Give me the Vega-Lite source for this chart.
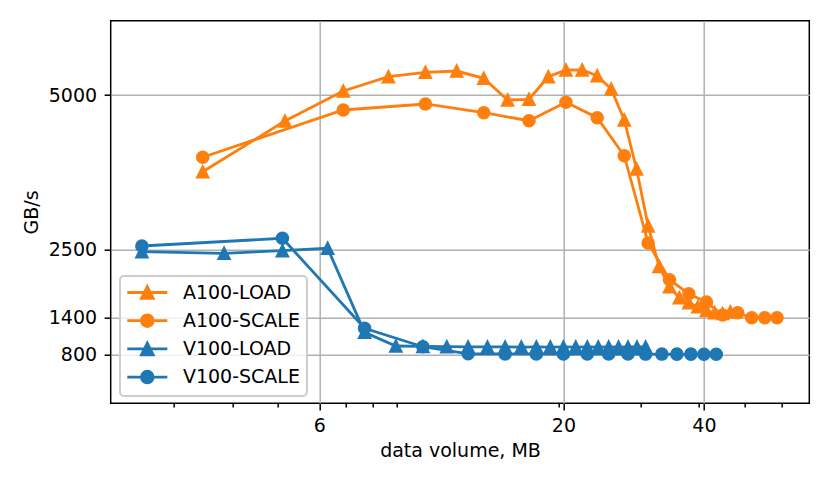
{
  "$schema": "https://vega.github.io/schema/vega-lite/v6.json",
  "width": 698.6,
  "height": 382.6,
  "autosize": "none",
  "padding": {"left": 110.7, "top": 20.7, "right": 20.7, "bottom": 81.7},
  "background": "white",
  "config": {
    "font": "DejaVu Sans",
    "view": {"stroke": "black", "strokeWidth": 1.5},
    "axis": {
      "labelFont": "DejaVu Sans", "labelFontSize": 19, "labelColor": "black",
      "titleFont": "DejaVu Sans", "titleFontSize": 19, "titleFontWeight": "normal", "titleColor": "black",
      "tickColor": "black", "tickWidth": 1.5, "tickSize": 6.6,
      "domain": false, "gridColor": "#b0b0b0", "gridWidth": 1.5
    },
    "legend": {"strokeWidth": 1.9}
  },
  "data": {"values": [
    {"series": "A100-LOAD", "mb": 3.456, "gbs": 3760},
    {"series": "A100-LOAD", "mb": 5.184, "gbs": 4580},
    {"series": "A100-LOAD", "mb": 6.912, "gbs": 5065},
    {"series": "A100-LOAD", "mb": 8.64, "gbs": 5296},
    {"series": "A100-LOAD", "mb": 10.368, "gbs": 5367},
    {"series": "A100-LOAD", "mb": 12.096, "gbs": 5388},
    {"series": "A100-LOAD", "mb": 13.824, "gbs": 5270},
    {"series": "A100-LOAD", "mb": 15.552, "gbs": 4919},
    {"series": "A100-LOAD", "mb": 17.28, "gbs": 4931},
    {"series": "A100-LOAD", "mb": 19.008, "gbs": 5296},
    {"series": "A100-LOAD", "mb": 20.736, "gbs": 5405},
    {"series": "A100-LOAD", "mb": 22.464, "gbs": 5405},
    {"series": "A100-LOAD", "mb": 24.192, "gbs": 5312},
    {"series": "A100-LOAD", "mb": 25.92, "gbs": 5097},
    {"series": "A100-LOAD", "mb": 27.648, "gbs": 4596},
    {"series": "A100-LOAD", "mb": 29.376, "gbs": 3803},
    {"series": "A100-LOAD", "mb": 31.104, "gbs": 2882},
    {"series": "A100-LOAD", "mb": 32.832, "gbs": 2226},
    {"series": "A100-LOAD", "mb": 34.56, "gbs": 1900},
    {"series": "A100-LOAD", "mb": 36.288, "gbs": 1720},
    {"series": "A100-LOAD", "mb": 38.016, "gbs": 1640},
    {"series": "A100-LOAD", "mb": 39.744, "gbs": 1575},
    {"series": "A100-LOAD", "mb": 41.472, "gbs": 1515},
    {"series": "A100-LOAD", "mb": 43.2, "gbs": 1480},
    {"series": "A100-LOAD", "mb": 44.928, "gbs": 1465},
    {"series": "A100-LOAD", "mb": 46.656, "gbs": 1495},
    {"series": "A100-SCALE", "mb": 3.456, "gbs": 3993},
    {"series": "A100-SCALE", "mb": 6.912, "gbs": 4758},
    {"series": "A100-SCALE", "mb": 10.368, "gbs": 4855},
    {"series": "A100-SCALE", "mb": 13.824, "gbs": 4714},
    {"series": "A100-SCALE", "mb": 17.28, "gbs": 4585},
    {"series": "A100-SCALE", "mb": 20.736, "gbs": 4882},
    {"series": "A100-SCALE", "mb": 24.192, "gbs": 4633},
    {"series": "A100-SCALE", "mb": 27.648, "gbs": 4018},
    {"series": "A100-SCALE", "mb": 31.104, "gbs": 2607},
    {"series": "A100-SCALE", "mb": 34.56, "gbs": 2013},
    {"series": "A100-SCALE", "mb": 38.016, "gbs": 1785},
    {"series": "A100-SCALE", "mb": 41.472, "gbs": 1650},
    {"series": "A100-SCALE", "mb": 44.928, "gbs": 1442},
    {"series": "A100-SCALE", "mb": 48.384, "gbs": 1477},
    {"series": "A100-SCALE", "mb": 51.84, "gbs": 1398},
    {"series": "A100-SCALE", "mb": 55.296, "gbs": 1398},
    {"series": "A100-SCALE", "mb": 58.752, "gbs": 1398},
    {"series": "V100-LOAD", "mb": 2.56, "gbs": 2466},
    {"series": "V100-LOAD", "mb": 3.84, "gbs": 2440},
    {"series": "V100-LOAD", "mb": 5.12, "gbs": 2482},
    {"series": "V100-LOAD", "mb": 6.4, "gbs": 2521},
    {"series": "V100-LOAD", "mb": 7.68, "gbs": 1162},
    {"series": "V100-LOAD", "mb": 8.96, "gbs": 941},
    {"series": "V100-LOAD", "mb": 10.24, "gbs": 935},
    {"series": "V100-LOAD", "mb": 11.52, "gbs": 930},
    {"series": "V100-LOAD", "mb": 12.8, "gbs": 927},
    {"series": "V100-LOAD", "mb": 14.08, "gbs": 925},
    {"series": "V100-LOAD", "mb": 15.36, "gbs": 926},
    {"series": "V100-LOAD", "mb": 16.64, "gbs": 924},
    {"series": "V100-LOAD", "mb": 17.92, "gbs": 925},
    {"series": "V100-LOAD", "mb": 19.2, "gbs": 924},
    {"series": "V100-LOAD", "mb": 20.48, "gbs": 925},
    {"series": "V100-LOAD", "mb": 21.76, "gbs": 924},
    {"series": "V100-LOAD", "mb": 23.04, "gbs": 925},
    {"series": "V100-LOAD", "mb": 24.32, "gbs": 924},
    {"series": "V100-LOAD", "mb": 25.6, "gbs": 925},
    {"series": "V100-LOAD", "mb": 26.88, "gbs": 924},
    {"series": "V100-LOAD", "mb": 28.16, "gbs": 925},
    {"series": "V100-LOAD", "mb": 29.44, "gbs": 926},
    {"series": "V100-LOAD", "mb": 30.72, "gbs": 925},
    {"series": "V100-SCALE", "mb": 2.56, "gbs": 2558},
    {"series": "V100-SCALE", "mb": 5.12, "gbs": 2683},
    {"series": "V100-SCALE", "mb": 7.68, "gbs": 1227},
    {"series": "V100-SCALE", "mb": 10.24, "gbs": 929},
    {"series": "V100-SCALE", "mb": 12.8, "gbs": 815},
    {"series": "V100-SCALE", "mb": 15.36, "gbs": 812},
    {"series": "V100-SCALE", "mb": 17.92, "gbs": 813},
    {"series": "V100-SCALE", "mb": 20.48, "gbs": 811},
    {"series": "V100-SCALE", "mb": 23.04, "gbs": 812},
    {"series": "V100-SCALE", "mb": 25.6, "gbs": 811},
    {"series": "V100-SCALE", "mb": 28.16, "gbs": 811},
    {"series": "V100-SCALE", "mb": 30.72, "gbs": 810},
    {"series": "V100-SCALE", "mb": 33.28, "gbs": 810},
    {"series": "V100-SCALE", "mb": 35.84, "gbs": 809},
    {"series": "V100-SCALE", "mb": 38.4, "gbs": 809},
    {"series": "V100-SCALE", "mb": 40.96, "gbs": 808},
    {"series": "V100-SCALE", "mb": 43.52, "gbs": 808}
  ]},
  "encoding": {
    "x": {
      "field": "mb", "type": "quantitative",
      "scale": {"type": "log", "domain": [2.195, 68.88], "nice": false, "zero": false},
      "axis": {
        "title": "data volume, MB",
        "values": [3, 4, 5, 6.144, 7, 8, 9, 20, 20.48, 30, 40, 40.96, 50, 60],
        "labelExpr": "datum.value == 6.144 ? '6' : datum.value == 20.48 ? '20' : datum.value == 40.96 ? '40' : ''",
        "labelOverlap": false,
        "labelPadding": 7,
        "titlePadding": 6,
        "tickSize": {"condition": {"test": "datum.value == 6.144 || datum.value == 20.48 || datum.value == 40.96", "value": 6.6}, "value": 3.8},
        "gridOpacity": {"condition": {"test": "datum.value == 6.144 || datum.value == 20.48 || datum.value == 40.96", "value": 1}, "value": 0}
      }
    },
    "y": {
      "field": "gbs", "type": "quantitative",
      "scale": {"domain": [14, 6202], "nice": false, "zero": false},
      "axis": {
        "title": "GB/s",
        "values": [800, 1400, 2500, 5000],
        "format": "d",
        "labelPadding": 7.5,
        "titlePadding": 7
      }
    },
    "color": {
      "field": "series", "type": "nominal",
      "scale": {"domain": ["A100-LOAD", "A100-SCALE", "V100-LOAD", "V100-SCALE"], "range": ["#ff7f0e", "#ff7f0e", "#1f77b4", "#1f77b4"]},
      "legend": {
        "title": null, "orient": "none", "legendX": 9.3, "legendY": 255.3,
        "padding": 7, "fillColor": "rgba(255,255,255,0.8)", "strokeColor": "#cccccc", "cornerRadius": 4,
        "labelFont": "DejaVu Sans", "labelFontSize": 19, "labelColor": "black",
        "symbolSize": 117, "symbolOffset": 10.8, "labelOffset": 26.1, "rowPadding": 5.2,
        "encode": {
          "symbols": {
            "update": {
              "shape": {"signal": "indexof(datum.value, 'LOAD') >= 0 ? 'M-3.7,0L3.7,0M0,-1.08L-1.08,1.08L1.08,1.08Z' : 'M-3.7,0L3.7,0M1.08,0A1.08,1.08,0,1,1,-1.08,0A1.08,1.08,0,1,1,1.08,0Z'"},
              "fill": {"scale": "color", "field": "value"},
              "stroke": {"scale": "color", "field": "value"},
              "strokeWidth": {"value": 2.8},
              "opacity": {"value": 1}
            }
          }
        }
      }
    }
  },
  "layer": [
    {"mark": {"type": "line", "strokeWidth": 2.8}, "encoding": {}},
    {
      "transform": [{"filter": "indexof(datum.series, 'LOAD') >= 0"}],
      "mark": {"type": "point", "filled": true, "size": 136, "strokeWidth": 1.9, "opacity": 1, "shape": "M0,-1L-1,1L1,1Z"},
      "encoding": {
        "stroke": {"field": "series", "type": "nominal", "scale": {"domain": ["A100-LOAD", "A100-SCALE", "V100-LOAD", "V100-SCALE"], "range": ["#ff7f0e", "#ff7f0e", "#1f77b4", "#1f77b4"]}, "legend": null}
      }
    },
    {
      "transform": [{"filter": "indexof(datum.series, 'SCALE') >= 0"}],
      "mark": {"type": "point", "filled": true, "size": 136, "strokeWidth": 1.9, "opacity": 1, "shape": "circle"},
      "encoding": {
        "stroke": {"field": "series", "type": "nominal", "scale": {"domain": ["A100-LOAD", "A100-SCALE", "V100-LOAD", "V100-SCALE"], "range": ["#ff7f0e", "#ff7f0e", "#1f77b4", "#1f77b4"]}, "legend": null}
      }
    }
  ]
}
